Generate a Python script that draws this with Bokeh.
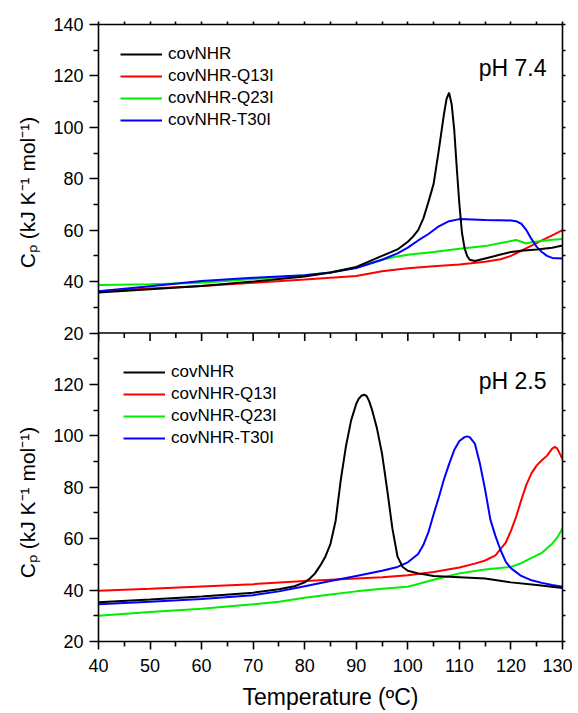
from math import pi
from bokeh.plotting import figure
from bokeh.layouts import row
from bokeh.models import Range1d, LinearAxis, FixedTicker, Legend, LegendItem, Label, Span
from bokeh.embed import file_html
from bokeh.resources import INLINE

FONT = "Liberation Sans"

series_names = ["covNHR", "covNHR-Q13I", "covNHR-Q23I", "covNHR-T30I"]
series_colors = ["#000000", "#ff0000", "#00ee00", "#0000ff"]

# ---------------- pH 7.4 (top panel) ----------------
top_nhr_T = [40, 50, 60, 70, 80, 85, 90, 95, 98, 100, 101, 102, 103, 104, 105, 106, 107, 107.5, 108,
             108.5, 109, 109.5, 110, 110.5, 111, 111.5, 112, 113, 115, 118, 120, 122, 125, 128, 130]
top_nhr_Cp = [35.8, 37, 38.3, 40, 42, 43.5, 45.7, 50, 52.5, 55.5, 57.5, 60, 64.5, 71, 78, 91, 105, 111, 113.5,
              109, 99, 84, 70, 59, 53, 50, 48.5, 48, 49, 50.5, 51.5, 52, 52.5, 53.2, 54]

top_q13_T = [40, 50, 60, 70, 80, 90, 95, 100, 105, 110, 115, 118, 120, 122, 124, 126, 128, 130]
top_q13_Cp = [36.2, 37.3, 38.3, 39.5, 40.8, 42.2, 44, 45.2, 46, 46.6, 47.7, 48.7, 50, 52, 54, 56, 58, 60]

top_q23_T = [40, 50, 60, 70, 80, 85, 90, 95, 98, 100, 105, 110, 115, 118, 120, 121, 122, 123, 124, 126, 128, 130]
top_q23_Cp = [38.7, 39, 39.5, 41, 42.5, 43.5, 45.5, 48.5, 49.8, 50.4, 51.5, 52.8, 53.8, 55, 55.8, 56.2, 55.5,
              54.8, 55.3, 55.8, 56.3, 56.6]

top_t30_T = [40, 50, 60, 70, 80, 85, 90, 95, 98, 100, 102, 104, 106, 108, 110, 115, 120, 121, 122, 123, 124,
             125, 126, 127, 128, 130]
top_t30_Cp = [36.2, 38.2, 40.2, 41.5, 42.5, 43.5, 45.3, 48.5, 51, 53.2, 56, 58.5, 61.5, 63.5, 64.3, 64, 63.8,
              63.5, 62.5, 60, 56.5, 53.5, 51.5, 50, 49.2, 49]

# ---------------- pH 2.5 (bottom panel) ----------------
bot_nhr_T = [40, 50, 60, 70, 75, 78, 80, 81, 82, 83, 84, 85, 86, 87, 88, 89, 90, 90.5, 91, 91.5, 92, 92.5,
             93, 94, 95, 96, 97, 98, 99, 100, 102, 105, 110, 115, 120, 125, 130]
bot_nhr_Cp = [35.3, 36.3, 37.5, 39, 40.3, 41.5, 43, 44.5, 46.5, 49.5, 53, 58, 67, 83, 96, 106, 112.5, 114.5,
              115.6, 116, 115.5, 113.5, 110.5, 103, 93, 79, 64, 53, 49, 47.5, 46.5, 45.5, 45, 44.5, 43, 42, 40.8]

bot_q13_T = [40, 50, 60, 70, 80, 90, 95, 100, 105, 110, 113, 115, 117, 118, 119, 120, 121, 122, 123, 124,
             125, 126, 127, 128, 128.5, 129, 129.5, 130]
bot_q13_Cp = [39.7, 40.5, 41.4, 42.3, 43.5, 44.5, 45, 45.8, 47, 48.8, 50.3, 51.5, 53.5, 56, 58.5, 63, 68.5,
              75, 81, 85.5, 88.5, 90.5, 92.3, 95, 95.7, 95, 93, 91]

bot_q23_T = [40, 50, 60, 70, 75, 80, 85, 90, 95, 100, 105, 110, 115, 120, 122, 124, 126, 128, 129, 130]
bot_q23_Cp = [30, 31.5, 32.7, 34.5, 35.5, 37, 38.3, 39.5, 40.5, 41.3, 44, 46.5, 48, 49, 50.5, 52.5, 54.5,
              58, 60.5, 64]

bot_t30_T = [40, 50, 60, 70, 75, 80, 85, 90, 95, 98, 100, 102, 103, 104, 105, 106, 107, 108, 109, 110, 111,
             111.5, 112, 113, 114, 115, 116, 117, 118, 119, 120, 121, 122, 124, 126, 128, 130]
bot_t30_Cp = [34.5, 35.5, 36.5, 38, 39.5, 41.5, 43.5, 45.5, 47.5, 49, 50.8, 54, 57.5, 62.5, 69.5, 76, 83, 89,
              94.5, 98, 99.5, 99.8, 99.5, 97, 89, 79, 67.5, 61, 55.5, 51, 48.5, 47, 45.5, 43.8, 42.8, 42, 41.3]

# ---------------- axes ----------------
x_ticks = [40, 50, 60, 70, 80, 90, 100, 110, 120, 130]
x_minor = [45, 55, 65, 75, 85, 95, 105, 115, 125]
y_ticks = [20, 40, 60, 80, 100, 120, 140]
y_minor = [30, 50, 70, 90, 110, 130]
panel_labels = ["pH 7.4", "pH 2.5"]
y_title = "C\u209a (kJ K\u207b\u00b9 mol\u207b\u00b9)"
x_title = "Temperature (\u00baC)"

# The two panels share one frame: the bottom panel uses the default y range
# (20..140 in its lower half), the top panel uses the extra range "top".
SHIFT = 120
FRAME_H = 617
p = figure(frame_width=464, frame_height=FRAME_H,
           x_range=Range1d(40, 130), y_range=Range1d(20, 140 + SHIFT),
           output_backend="svg", toolbar_location=None,
           x_axis_location=None, y_axis_location=None,
           min_border_left=50, min_border_right=10, min_border_top=24, min_border_bottom=60)
p.extra_y_ranges = {"top": Range1d(20 - SHIFT, 140)}
p.outline_line_color = None
p.background_fill_color = "white"
p.border_fill_color = "white"
p.xgrid.visible = False
p.ygrid.visible = False

LW = 1.6

bot_major = [v for v in y_ticks if v <= 120]
top_major = [v + SHIFT for v in y_ticks]
all_minor = y_minor + [v + SHIFT for v in y_minor]
left = LinearAxis(ticker=FixedTicker(ticks=bot_major + top_major, minor_ticks=all_minor),
                  major_label_overrides={v + SHIFT: str(v) for v in y_ticks})
right = LinearAxis(ticker=FixedTicker(ticks=bot_major + top_major, minor_ticks=all_minor),
                   major_label_overrides={v: "" for v in bot_major + top_major})
below = LinearAxis(ticker=FixedTicker(ticks=x_ticks, minor_ticks=x_minor), axis_label=x_title)
above = LinearAxis(ticker=FixedTicker(ticks=x_ticks, minor_ticks=x_minor),
                   major_label_overrides={v: "" for v in x_ticks})

for ax in (left, right, below, above):
    ax.axis_line_width = LW
    ax.axis_line_color = "black"
    ax.major_tick_line_width = LW
    ax.minor_tick_line_width = LW
    ax.major_tick_in = 0
    ax.minor_tick_in = 0
    ax.major_label_text_font = FONT
    ax.major_label_text_font_size = "18px"
    ax.major_label_text_color = "black"
    ax.axis_label_text_font = FONT
    ax.axis_label_text_font_style = "normal"
    ax.axis_label_text_color = "black"

left.major_tick_out = 9
left.minor_tick_out = 5
left.major_label_standoff = 6
below.major_tick_out = 8
below.minor_tick_out = 5
below.major_label_standoff = 9
below.axis_label_text_font_size = "23px"
below.axis_label_standoff = 9
for ax in (right, above):
    ax.major_tick_out = 3
    ax.minor_tick_out = 3
    ax.major_label_text_font_size = "2px"
    ax.major_label_standoff = 0

p.add_layout(left, "left")
p.add_layout(right, "right")
p.add_layout(below, "below")
p.add_layout(above, "above")

# boundary between the panels, with the top panel's x ticks pointing down
p.add_layout(Span(location=140, dimension="width", line_color="black", line_width=LW))
p.ray(x=x_ticks, y=[140] * len(x_ticks), length=8, length_units="screen", angle=-pi / 2,
      line_color="black", line_width=LW)
p.ray(x=x_minor, y=[140] * len(x_minor), length=5, length_units="screen", angle=-pi / 2,
      line_color="black", line_width=LW)

# curves
top_data = [(top_nhr_T, top_nhr_Cp), (top_q13_T, top_q13_Cp), (top_q23_T, top_q23_Cp), (top_t30_T, top_t30_Cp)]
bot_data = [(bot_nhr_T, bot_nhr_Cp), (bot_q13_T, bot_q13_Cp), (bot_q23_T, bot_q23_Cp), (bot_t30_T, bot_t30_Cp)]

draw_order = [1, 2, 3, 0]
top_r = {}
bot_r = {}
for i in draw_order:
    x, y = top_data[i]
    top_r[i] = p.line(x, y, y_range_name="top", line_color=series_colors[i], line_width=2)
for i in draw_order:
    x, y = bot_data[i]
    bot_r[i] = p.line(x, y, line_color=series_colors[i], line_width=2)


def make_legend(rs, loc):
    lg = Legend(items=[LegendItem(label=series_names[i], renderers=[rs[i]]) for i in range(4)],
                location=loc, orientation="vertical")
    lg.glyph_width = 42
    lg.glyph_height = 22
    lg.label_height = 22
    lg.label_standoff = 6
    lg.spacing = 0
    lg.padding = 0
    lg.margin = 0
    lg.border_line_color = None
    lg.background_fill_alpha = 0
    lg.label_text_font = FONT
    lg.label_text_font_size = "17px"
    lg.label_text_color = "black"
    return lg


p.add_layout(make_legend(top_r, (22, 510)))
p.add_layout(make_legend(bot_r, (25, 192)))

# panel annotations
for txt, ysc in zip(panel_labels, (574, 261)):
    p.add_layout(Label(x=448, y=ysc, x_units="screen", y_units="screen", text=txt,
                       text_font=FONT, text_font_size="23px", text_align="right",
                       text_baseline="alphabetic", text_color="black"))

# y-axis titles (one per panel) live in a narrow strip to the left
TITLE_H = 711
t = figure(frame_width=48, frame_height=TITLE_H, x_range=Range1d(0, 1), y_range=Range1d(0, 1),
           output_backend="svg", toolbar_location=None, x_axis_location=None, y_axis_location=None,
           min_border=0, min_border_left=0, min_border_right=0, min_border_top=0, min_border_bottom=0)
t.outline_line_color = None
t.border_fill_color = "white"
t.background_fill_color = "white"
t.xgrid.visible = False
t.ygrid.visible = False
for ysc in (TITLE_H - 189 + 21, TITLE_H - 502 + 24):
    t.add_layout(Label(x=27, y=ysc, x_units="screen", y_units="screen", text=y_title,
                       angle=pi / 2, text_font=FONT, text_font_size="21px", text_align="center",
                       text_baseline="middle", text_color="black"))

layout = row(t, p)
open("out.html", "w").write(file_html(layout, INLINE))
